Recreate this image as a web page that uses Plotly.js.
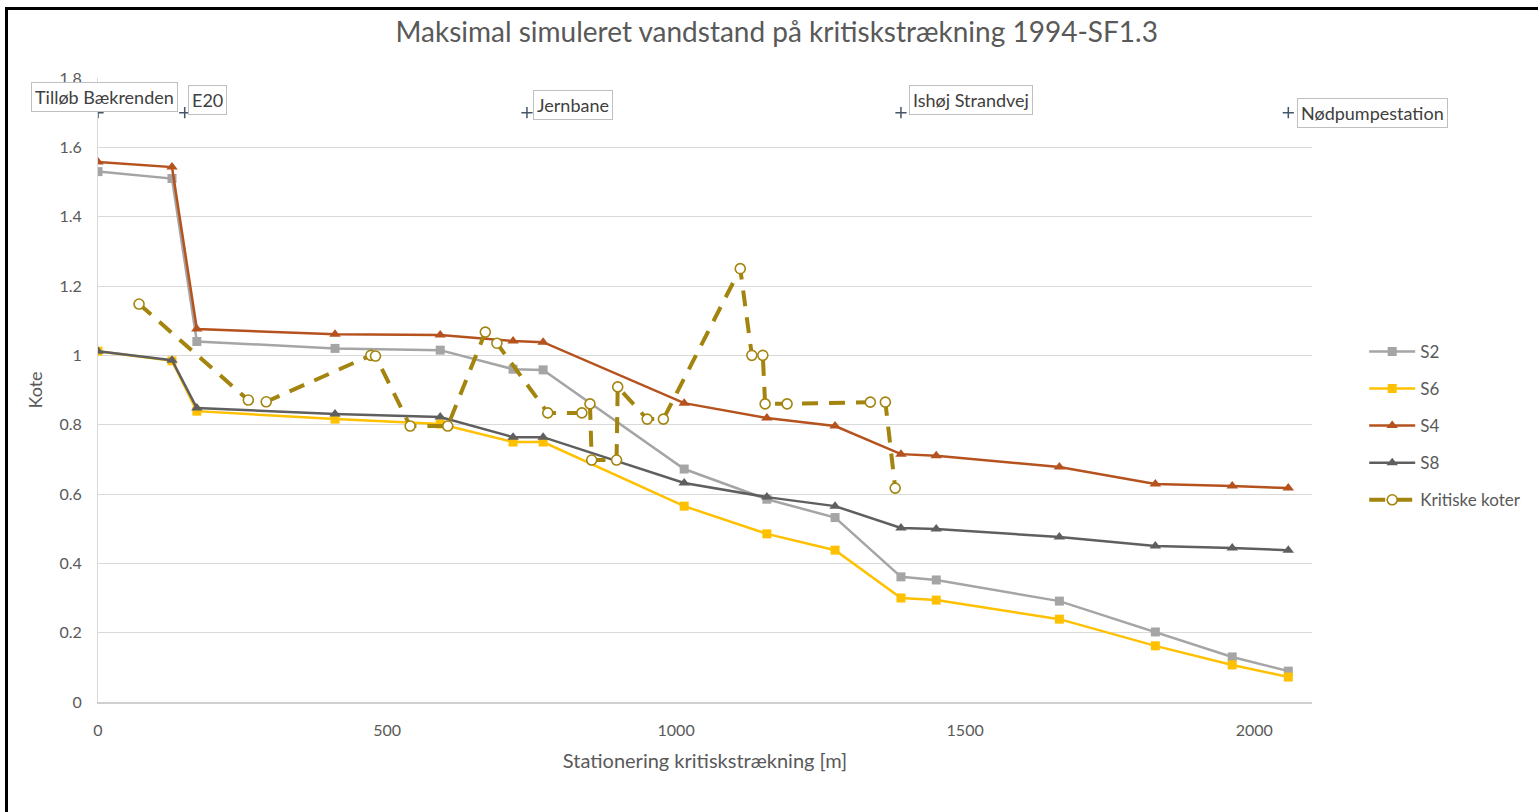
<!DOCTYPE html>
<html>
<head>
<meta charset="utf-8">
<script src="https://cdn.plot.ly/plotly-3.0.1.min.js"></script>
<style>
  html, body { margin: 0; padding: 0; background: #fff; }
  #wrap { position: relative; width: 1538px; height: 812px; overflow: hidden; }
  #chart { position: absolute; left: 0; top: 0; width: 1538px; height: 812px; }
  .frameTop { position: absolute; left: 5px; top: 7px; width: 1533px; height: 3px; background: #000; }
  .frameLeft { position: absolute; left: 5px; top: 7px; width: 3px; height: 805px; background: #000; }
</style>
</head>
<body>
<div id="wrap">
  <div id="chart"></div>
  <div class="frameTop"></div>
  <div class="frameLeft"></div>
</div>
<script>
// ---- data ----
const stations = [0, 128, 171, 410, 592, 718, 770, 1014, 1157, 1275, 1389, 1450, 1663, 1829, 1962, 2059];
const s2 = [1.53, 1.51, 1.04, 1.02, 1.015, 0.96, 0.958, 0.672, 0.585, 0.532, 0.361, 0.352, 0.291, 0.202, 0.130, 0.089];
const s6 = [1.012, 0.984, 0.839, 0.816, 0.802, 0.75, 0.75, 0.565, 0.485, 0.438, 0.300, 0.294, 0.239, 0.162, 0.107, 0.072];
const s4 = [1.558, 1.543, 1.076, 1.061, 1.059, 1.041, 1.038, 0.862, 0.819, 0.796, 0.715, 0.710, 0.678, 0.629, 0.623, 0.617];
const s8 = [1.012, 0.986, 0.848, 0.831, 0.822, 0.764, 0.764, 0.632, 0.591, 0.565, 0.502, 0.499, 0.476, 0.450, 0.444, 0.438];

const kritiskeX = [71, 260, 291, 472, 480, 540, 605, 670, 690, 778, 837, 851, 854, 897, 899, 950, 978, 1111, 1131, 1150, 1154, 1192, 1336, 1362, 1379];
const kritiskeY = [1.148, 0.871, 0.866, 1.0, 0.998, 0.796, 0.796, 1.067, 1.035, 0.834, 0.834, 0.86, 0.698, 0.698, 0.909, 0.816, 0.816, 1.25, 1.0, 1.0, 0.86, 0.86, 0.865, 0.865, 0.617];

const landmarkNames = ["Tilløb Bækrenden", "E20", "Jernbane", "Ishøj Strandvej", "Nødpumpestation"];
const landmarkX = [0, 150, 742, 1389, 2059];
const landmarkY = [1.7, 1.7, 1.7, 1.7, 1.7];

const yTicks = [0, 0.2, 0.4, 0.6, 0.8, 1, 1.2, 1.4, 1.6, 1.8];
const xTicks = [0, 500, 1000, 1500, 2000];

// ---- styling ----
const FONT = "Lato, 'Open Sans', sans-serif";
const TXT = "#595959";
const labelStyle = [
  {xanchor: "center", xshift: 6, yshift: 16},
  {xanchor: "left", xshift: 3, yshift: 13},
  {xanchor: "left", xshift: 6, yshift: 8},
  {xanchor: "left", xshift: 8, yshift: 13},
  {xanchor: "left", xshift: 9, yshift: 0}
];

function series(name, y, color, symbol, size) {
  return {
    type: "scatter", mode: "lines+markers", name: name,
    x: stations, y: y, legendgroup: name,
    line: {color: color, width: 2.5},
    marker: {color: color, symbol: symbol, size: size}
  };
}

const traces = [
  series("S2", s2, "#A5A5A5", "square", 9),
  series("S6", s6, "#FFC000", "square", 9),
  series("S4", s4, "#B5521E", "triangle-up", 10),
  series("S8", s8, "#5F5F5F", "triangle-up", 10),
  {
    type: "scatter", mode: "lines+markers", name: "Kritiske koter",
    x: kritiskeX, y: kritiskeY, legendgroup: "k",
    line: {color: "#A3840E", width: 4, dash: "16px,11px"},
    marker: {symbol: "circle", size: 10, color: "#ffffff", line: {color: "#A3840E", width: 1.6}}
  },
  {
    type: "scatter", mode: "markers", name: "Steder", showlegend: false,
    x: landmarkX, y: landmarkY,
    marker: {symbol: "cross-thin", size: 8, line: {color: "#44546A", width: 1.5}}
  }
];

const annotations = landmarkNames.map((n, i) => Object.assign({
  x: landmarkX[i], y: landmarkY[i], xref: "x", yref: "y",
  text: n, showarrow: false, yanchor: "middle",
  font: {family: FONT, size: 18, color: "#404040"},
  bgcolor: "#ffffff", bordercolor: "#BFBFBF", borderwidth: 1, borderpad: 3
}, labelStyle[i]));

const layout = {
  width: 1538, height: 812,
  margin: {l: 98, r: 226, t: 78, b: 110},
  paper_bgcolor: "#ffffff", plot_bgcolor: "#ffffff",
  font: {family: FONT, size: 16, color: TXT},
  title: {
    text: "Maksimal simuleret vandstand på kritiskstrækning 1994-SF1.3",
    x: 0.505, xanchor: "center", y: 0.96, yanchor: "middle",
    xref: "container",
    font: {family: FONT, size: 28, color: TXT}
  },
  xaxis: {
    range: [0, 2100], tickvals: xTicks, ticks: "",
    showgrid: false, zeroline: false,
    showline: true, linecolor: "#D0D0D0", linewidth: 2,
    tickfont: {family: FONT, size: 16, color: TXT},
    ticklabelstandoff: 13,
    title: {text: "Stationering kritiskstrækning [m]", standoff: 16, font: {family: FONT, size: 20, color: TXT}}
  },
  yaxis: {
    range: [0, 1.8], tickvals: yTicks, ticks: "",
    showgrid: true, gridcolor: "#D9D9D9", gridwidth: 1, zeroline: false,
    showline: true, linecolor: "#D9D9D9", linewidth: 1,
    tickfont: {family: FONT, size: 16, color: TXT},
    ticklabelstandoff: 12,
    title: {text: "Kote", standoff: 12, font: {family: FONT, size: 18, color: TXT}}
  },
  legend: {
    x: 1.043, xanchor: "left", y: 0.59, yanchor: "top",
    traceorder: "grouped", tracegroupgap: 12, itemwidth: 46,
    font: {family: FONT, size: 17, color: TXT},
    bgcolor: "rgba(0,0,0,0)", borderwidth: 0
  },
  annotations: annotations,
  showlegend: true
};

Plotly.newPlot("chart", traces, layout, {displayModeBar: false, staticPlot: true});
</script>
</body>
</html>
